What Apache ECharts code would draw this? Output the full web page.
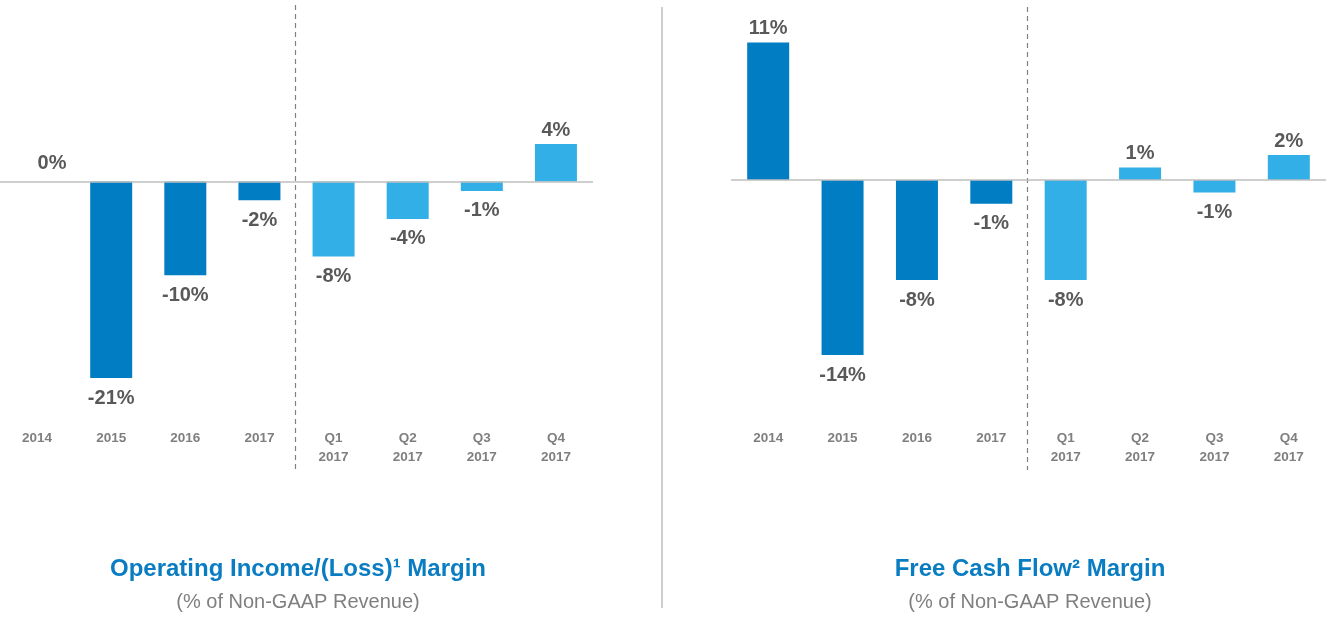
<!DOCTYPE html>
<html>
<head>
<meta charset="utf-8">
<script src="https://cdn.jsdelivr.net/npm/echarts@6/dist/echarts.min.js"></script>
<style>
html,body{margin:0;padding:0;background:#fff;}
#c{width:1333px;height:618px;}
</style>
</head>
<body>
<div id="c"></div>
<script>
// ---- data ----
const categories = ['2014', '2015', '2016', '2017', 'Q1\n2017', 'Q2\n2017', 'Q3\n2017', 'Q4\n2017'];
const opMarginValues = [0, -21, -10, -2, -8, -4, -1, 4];
const opMarginLabels = ['0%', '-21%', '-10%', '-2%', '-8%', '-4%', '-1%', '4%'];
const fcfMarginValues = [11, -14, -8, -1.9, -8, 1, -1, 2];
const fcfMarginLabels = ['11%', '-14%', '-8%', '-1%', '-8%', '1%', '-1%', '2%'];
const isQuarter = [false, false, false, false, true, true, true, true];
const leftTitle = 'Operating Income/(Loss)\u00B9 Margin';
const rightTitle = 'Free Cash Flow\u00B2 Margin';
const subTitle = '(% of Non-GAAP Revenue)';

const FONT = '"Liberation Sans", Arial, sans-serif';
const DARK = '#007DC3';
const LIGHT = '#33AFE8';

function buildData(values, labels) {
  return values.map((v, i) => ({
    value: v,
    itemStyle: { color: isQuarter[i] ? LIGHT : DARK },
    label: {
      show: true,
      position: v < 0 ? 'bottom' : 'top',
      distance: v === 0 ? 8 : (v < 0 ? 10 : 4),
      offset: v === 0 ? [15, 0] : [0, 0],
      formatter: labels[i]
    }
  }));
}

const chart = echarts.init(document.getElementById('c'), null, { renderer: 'canvas' });

const labelStyle = { fontFamily: FONT, fontWeight: 'bold', fontSize: 20, color: '#595959' };

function xAxisCfg(idx) {
  return {
    type: 'category', gridIndex: idx, data: categories,
    axisLine: { show: false }, axisTick: { show: false },
    axisLabel: { fontFamily: FONT, fontWeight: 'bold', fontSize: 13.5, color: '#7f7f7f', margin: idx === 0 ? 4 : -1, lineHeight: 19, interval: 0 },
    splitLine: { show: false }
  };
}
function yAxisCfg(idx, min, max) {
  return { type: 'value', gridIndex: idx, min: min, max: max, show: false, splitLine: { show: false } };
}
const zeroLine = {
  silent: true, symbol: 'none', label: { show: false },
  lineStyle: { color: '#bfbfbf', type: 'solid', width: 1.5 },
  data: [{ yAxis: 0 }]
};

chart.setOption({
  animation: false,
  title: [
    { text: leftTitle, left: 293, top: 552, textAlign: 'center',
      textStyle: { fontFamily: FONT, fontWeight: 'bold', fontSize: 24, color: '#0A7DC2' } },
    { text: subTitle, left: 293, top: 587, textAlign: 'center',
      textStyle: { fontFamily: FONT, fontWeight: 'normal', fontSize: 20, color: '#7f7f7f' } },
    { text: rightTitle, left: 1025, top: 552, textAlign: 'center',
      textStyle: { fontFamily: FONT, fontWeight: 'bold', fontSize: 24, color: '#0A7DC2' } },
    { text: subTitle, left: 1025, top: 587, textAlign: 'center',
      textStyle: { fontFamily: FONT, fontWeight: 'normal', fontSize: 20, color: '#7f7f7f' } }
  ],
  grid: [
    { left: 0, width: 593, top: 3.7, height: 421.2, containLabel: false },
    { left: 731, width: 595, top: 5, height: 425, containLabel: false }
  ],
  xAxis: [xAxisCfg(0), xAxisCfg(1)],
  yAxis: [yAxisCfg(0, -26, 19), yAxisCfg(1, -20, 14)],
  series: [
    { type: 'bar', xAxisIndex: 0, yAxisIndex: 0, barWidth: 42,
      data: buildData(opMarginValues, opMarginLabels), label: labelStyle, markLine: zeroLine },
    { type: 'bar', xAxisIndex: 1, yAxisIndex: 1, barWidth: 42,
      data: buildData(fcfMarginValues, fcfMarginLabels), label: labelStyle, markLine: zeroLine }
  ]
});

// decorative divider lines, placed from the axis scale
function boundaryX(axisIdx) {
  const a = chart.convertToPixel({ xAxisIndex: axisIdx }, categories[3]);
  const b = chart.convertToPixel({ xAxisIndex: axisIdx }, categories[4]);
  return (a + b) / 2;
}
const lx = boundaryX(0) - 1, rx = boundaryX(1) - 1;
chart.setOption({
  graphic: [
    { type: 'line', shape: { x1: lx, y1: 5, x2: lx, y2: 472 },
      style: { stroke: '#808080', lineWidth: 1.2, lineDash: [5, 4] }, silent: true },
    { type: 'line', shape: { x1: rx, y1: 7, x2: rx, y2: 470 },
      style: { stroke: '#808080', lineWidth: 1.2, lineDash: [5, 4] }, silent: true },
    { type: 'line', shape: { x1: 662, y1: 7, x2: 662, y2: 608 },
      style: { stroke: '#bfbfbf', lineWidth: 1.5 }, silent: true }
  ]
});
</script>
</body>
</html>
